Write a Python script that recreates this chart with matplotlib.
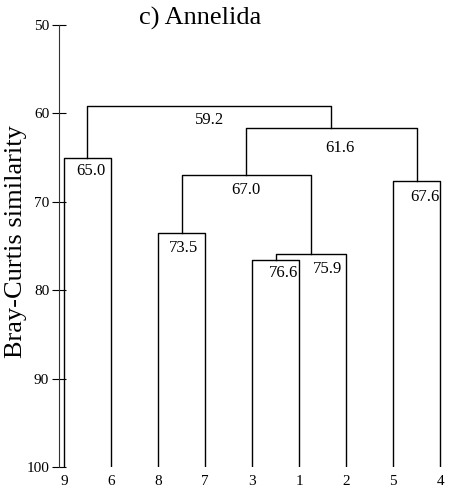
import matplotlib
matplotlib.use('Agg')
import matplotlib.pyplot as plt

plt.rcParams['font.family'] = ['Liberation Serif', 'DejaVu Serif']

# leaf order along the bottom
leaves = ['9', '6', '8', '7', '3', '1', '2', '5', '4']

# merges: new node, left child, right child, Bray-Curtis similarity
node = ['A', 'B', 'C', 'D', 'E', 'F', 'G', 'H']
left = ['9', '8', '3', 'C', 'B', '5', 'E', 'A']
right = ['6', '7', '1', '2', 'D', '4', 'F', 'G']
similarity = [65.0, 73.5, 76.6, 75.9, 67.0, 67.6, 61.6, 59.2]
labels = ['65.0', '73.5', '76.6', '75.9', '67.0', '67.6', '61.6', '59.2']
label_dx = [0.07, 0.05, 0.16, 0.35, 0.0, 0.18, 0.18, 0.0]
label_dy = [0.6, 0.8, 0.6, 0.8, 0.8, 1.0, 1.4, 0.6]

fig = plt.figure(figsize=(4.57, 4.93), dpi=100)
ax = fig.add_axes([0.129, 0.053, 0.856, 0.896])

xpos = {name: i for i, name in enumerate(leaves)}
ypos = {name: 100.0 for name in leaves}

for n, l, r, s, lab, dx, dy in zip(node, left, right, similarity, labels, label_dx, label_dy):
    x1, x2 = xpos[l], xpos[r]
    ax.plot([x1, x1, x2, x2], [ypos[l], s, s, ypos[r]], color='black', lw=1.0)
    xpos[n] = (x1 + x2) / 2
    ypos[n] = s
    ax.text(xpos[n] + dx, s + dy, lab, ha='center', va='top', fontsize=12)

ax.set_ylim(100, 50)
ax.set_xlim(-0.106, 8.21)
ax.set_yticks([50, 60, 70, 80, 90, 100])
ax.set_xticks(range(len(leaves)))
ax.set_xticklabels(leaves, fontsize=11)
ax.tick_params(axis='x', length=0, pad=6)
ax.tick_params(axis='y', direction='inout', length=10, labelsize=11, pad=2)
for side in ['top', 'right', 'bottom']:
    ax.spines[side].set_visible(False)
ax.spines['left'].set_color('#333333')

fig.text(0.437, 0.962, 'c) Annelida', ha='center', va='center', fontsize=19)
fig.text(0.035, 0.51, 'Bray-Curtis similarity', rotation=90, ha='center', va='center', fontsize=19)

fig.savefig('out.png', dpi=100)
